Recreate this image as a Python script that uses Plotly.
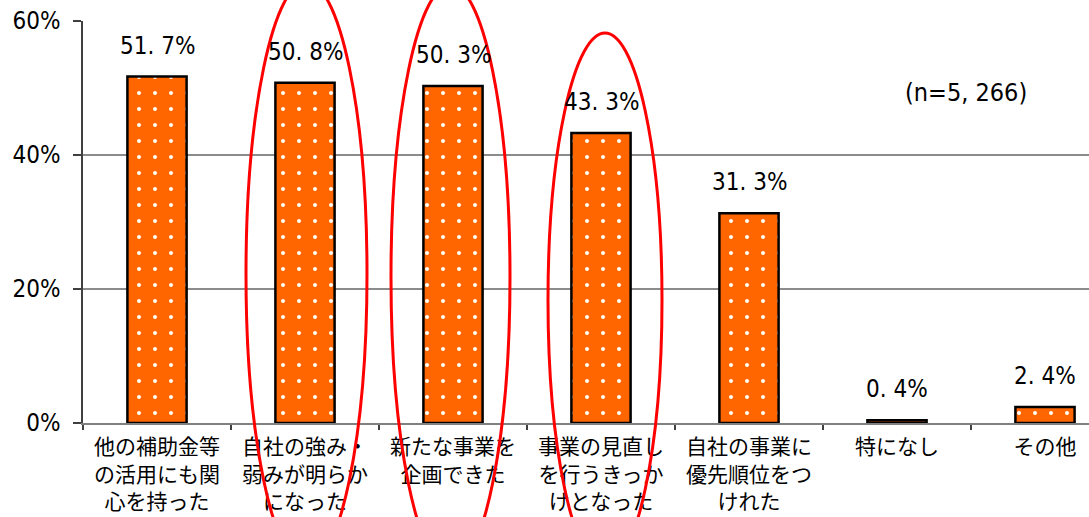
import plotly.graph_objects as go

categories = [
    "他の補助金等<br>の活用にも関<br>心を持った",
    "自社の強み・<br>弱みが明らか<br>になった",
    "新たな事業を<br>企画できた",
    "事業の見直し<br>を行うきっか<br>けとなった",
    "自社の事業に<br>優先順位をつ<br>けれた",
    "特になし",
    "その他",
]
values = [51.7, 50.8, 50.3, 43.3, 31.3, 0.4, 2.4]
value_labels = ["51. 7%", "50. 8%", "50. 3%", "43. 3%", "31. 3%", "0. 4%", "2. 4%"]
y_ticks = [0, 20, 40, 60]
y_tick_labels = ["0%", "20%", "40%", "60%"]
sample_note = "(n=5, 266)"

FONT = "Noto Sans CJK JP"
NUMFONT = "Liberation Sans Narrow, DejaVu Sans Condensed, Noto Sans CJK JP"

W, H = 1089, 517
# plot area in pixels
PL, PT, PB, PR = 83, 21, 423, 1089
plot_w = PR - PL
plot_h = PB - PT
x_range = [-0.5, -0.5 + plot_w / 148.0]

fig = go.Figure()
fig.add_trace(go.Bar(
    x=categories, y=values, width=0.4,
    marker=dict(
        color="#FF6600",
        line=dict(color="black", width=2.5),
        pattern=dict(shape=".", fgcolor="white", bgcolor="#FF6600",
                     size=16, solidity=0.05, fillmode="replace"),
    ),
    hoverinfo="skip",
))

for c, v, t in zip(categories, values, value_labels):
    fig.add_annotation(x=c, y=v, text=t, showarrow=False, yanchor="bottom",
                       yshift=15, font=dict(family=NUMFONT, size=24, color="black"))

fig.add_annotation(xref="paper", yref="paper", x=(966 - PL) / plot_w, y=(PB - 93) / plot_h,
                   xanchor="center", yanchor="middle", text=sample_note,
                   showarrow=False, font=dict(family=NUMFONT, size=25, color="black"))

# red highlight ellipses (pixel geometry -> paper coords)
ellipses = [(306.5, 60.5, 274, 292), (450.5, 59.5, 277, 292), (605, 57, 300, 267)]
for cx, a, cy, b in ellipses:
    fig.add_shape(type="circle", xref="paper", yref="paper",
                  x0=(cx - a - PL) / plot_w, x1=(cx + a - PL) / plot_w,
                  y0=(PB - (cy + b)) / plot_h, y1=(PB - (cy - b)) / plot_h,
                  line=dict(color="red", width=3), layer="above")

fig.update_layout(
    width=W, height=H,
    margin=dict(l=PL, r=W - PR, t=PT, b=H - PB, autoexpand=False),
    paper_bgcolor="white", plot_bgcolor="white",
    showlegend=False, bargap=0.6,
    font=dict(family=FONT, color="black"),
    xaxis=dict(
        range=x_range, type="category", automargin=False,
        showline=True, linecolor="#808080", linewidth=2,
        ticks="outside", tickson="boundaries", ticklen=5, tickcolor="#404040",
        tickwidth=1.5, showgrid=False,
        tickfont=dict(family=FONT, size=21, color="black"),
        ticklabelstandoff=4, tickangle=0,
    ),
    yaxis=dict(
        range=[0, 60], tickvals=y_ticks, ticktext=y_tick_labels, automargin=False,
        showline=True, linecolor="#404040", linewidth=1.5,
        ticks="outside", ticklen=8, tickcolor="#404040", tickwidth=1.5,
        showgrid=True, gridcolor="#8c8c8c", gridwidth=1.5,
        zeroline=False, ticklabeloverflow="allow",
        tickfont=dict(family=NUMFONT, size=24, color="black"),
        ticklabelstandoff=8,
    ),
)

fig.write_html("out.html", config={"displayModeBar": False},
               post_script="document.body.style.margin='0';")
